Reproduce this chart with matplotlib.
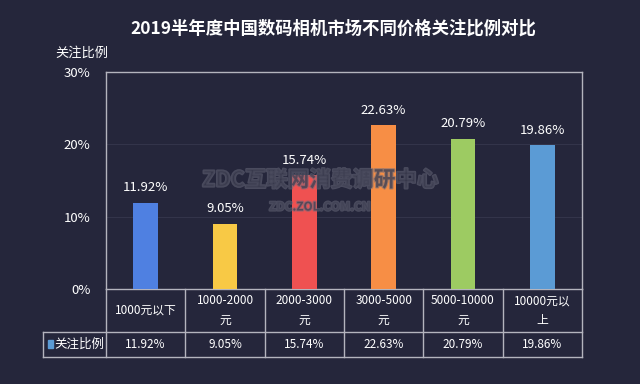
import matplotlib
matplotlib.use('Agg')
import matplotlib.pyplot as plt
import matplotlib.patheffects as pe
from matplotlib.patches import Rectangle

plt.rcParams['font.family'] = ['Noto Sans CJK SC', 'DejaVu Sans']

# data
categories = ['1000元以下', '1000-2000\n元', '2000-3000\n元', '3000-5000\n元', '5000-10000\n元', '10000元以\n上']
values = [11.92, 9.05, 15.74, 22.63, 20.79, 19.86]
bar_colors = ['#4f80e1', '#f8c945', '#ef5151', '#f78e45', '#9dcb62', '#5b9bd5']
yticks = [0, 10, 20, 30]
series_name = '关注比例'
title = '2019半年度中国数码相机市场不同价格关注比例对比'

bg = '#25263b'
fg = 'white'
edge = '#b4b4be'

W, H = 640, 384
fig = plt.figure(figsize=(W/100, H/100), dpi=100, facecolor=bg)

# plot frame in pixels
left, right, top, bottom = 106, 582, 72, 289
ax = fig.add_axes([left/W, 1-bottom/H, (right-left)/W, (bottom-top)/H])
ax.set_facecolor(bg)

x = range(len(values))
ax.bar(x, values, width=0.31, color=bar_colors, zorder=3)
for xi, v in zip(x, values):
    ax.annotate('%.2f%%' % v, (xi, v), xytext=(0, 6), textcoords='offset points',
                ha='center', va='bottom', color=fg, fontsize=9.5)

ax.set_xlim(-0.5, len(values)-0.5)
ax.set_ylim(0, 30)
ax.set_yticks(yticks)
ax.set_yticklabels(['%d%%' % t for t in yticks], color=fg, fontsize=9.5)
ax.tick_params(axis='y', length=0, pad=11)
ax.set_xticks([])
for t in [10, 20]:
    ax.axhline(t, color='#33344a', lw=0.8, zorder=1)
for s in ax.spines.values():
    s.set_color(edge)
    s.set_linewidth(1.0)
ax.spines['bottom'].set_visible(False)

fig.text(55/W, 1-53/H, series_name, color=fg, fontsize=9.5, ha='left', va='center')
fig.text(333/W, 1-29/H, title, color=fg, fontsize=12.5, fontweight='bold', ha='center', va='center')

# table under the plot
trans = ax.get_xaxis_transform()
ph = bottom - top
r1 = -(332 - bottom)/ph
r2 = -(357 - bottom)/ph
xl = -0.5 - (left - 43)/((right-left)/len(values))
n = len(values)
kw = dict(color=edge, lw=1.0, clip_on=False, transform=trans)
ax.plot([-0.5, n-0.5], [0, 0], **kw)
ax.plot([xl, n-0.5], [r1, r1], **kw)
ax.plot([xl, n-0.5], [r2, r2], **kw)
ax.plot([xl, xl], [r1, r2], **kw)
for i in range(n+1):
    ax.plot([i-0.5, i-0.5], [0, r2], **kw)
for xi, c, v in zip(x, categories, values):
    ax.text(xi, r1/2, c, transform=trans, ha='center', va='center', color=fg,
            fontsize=8.5, linespacing=1.6)
    ax.text(xi, (r1+r2)/2, '%.2f%%' % v, transform=trans, ha='center', va='center',
            color=fg, fontsize=8.5)
ax.text((xl-0.5)/2 + 0.06, (r1+r2)/2, series_name, transform=trans, ha='center', va='center',
        color=fg, fontsize=9)
fig.patches.append(Rectangle((48/W, 1-348/H), 5/W, 8/H, transform=fig.transFigure,
                             color=bar_colors[-1]))

# watermark
wm = [pe.withStroke(linewidth=1.6, foreground='#6a6b7c')]
fig.text(320/W, 1-180/H, 'ZDC互联网消费调研中心', color='#3a3b4e', fontsize=15.5,
         fontweight='bold', ha='center', va='center', path_effects=wm, zorder=5, alpha=0.55)
fig.text(320/W, 1-207/H, 'ZDC.ZOL.COM.CN', color='#3a3b4e', fontsize=8.5,
         fontweight='bold', ha='center', va='center', path_effects=wm, zorder=5, alpha=0.55)

fig.savefig('out.png', dpi=100, facecolor=bg)
